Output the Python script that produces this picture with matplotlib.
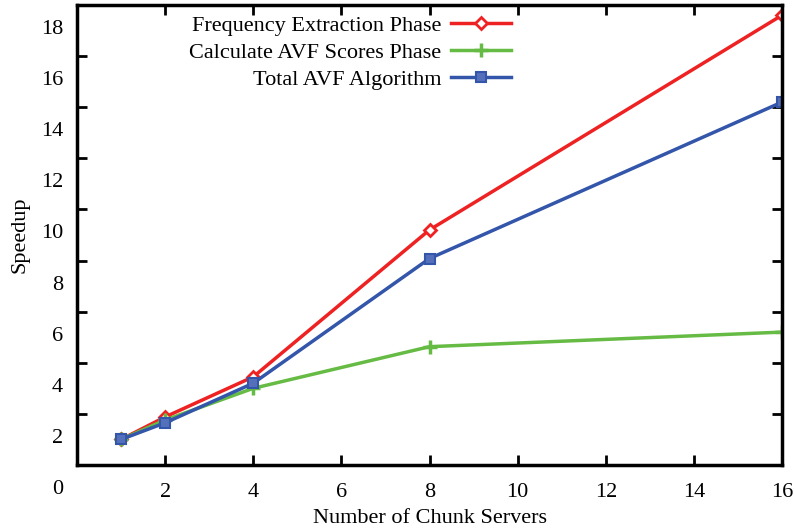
import matplotlib.pyplot as plt
import matplotlib.transforms as mtransforms

plt.rcParams['font.family'] = 'Liberation Serif'

# number of chunk servers and measured speedups
servers = [1, 2, 4, 8, 16]
freq_phase = [1.0, 1.88, 3.45, 9.2, 17.6]
avf_phase = [1.0, 1.76, 3.0, 4.63, 5.2]
total_avf = [1.0, 1.65, 3.2, 8.08, 14.2]

xticks = [2, 4, 6, 8, 10, 12, 14, 16]
yticks = [0, 2, 4, 6, 8, 10, 12, 14, 16, 18]

fig = plt.figure(figsize=(7.94, 5.28), dpi=100)
ax = fig.add_axes([77 / 794, 63 / 528, 705 / 794, 460 / 528])

ax.plot(servers, freq_phase, color='#ee2222', lw=2.5, marker='D', ms=6,
        mfc='white', mec='#ee2222', mew=2, label='Frequency Extraction Phase')
ax.plot(servers, avf_phase, color='#66bb44', lw=2.5, marker='+', ms=10,
        mew=2.5, label='Calculate AVF Scores Phase')
ax.plot(servers, total_avf, color='#3355aa', lw=2.5, marker='s', ms=7,
        mfc='#5570bb', mec='#3355aa', mew=1.5, label='Total AVF Algorithm')

ax.set_xlim(0, 16)
ax.set_ylim(0, 18)
ax.set_xticks(xticks)
ax.set_yticks(yticks)
ax.tick_params(direction='in', length=7, width=2, top=True, right=True,
               labelsize=16, pad=10)
ax.tick_params(axis='x', pad=13)
for s in ax.spines.values():
    s.set_linewidth(2.5)

# the y labels sit a bit below their ticks
shift = mtransforms.ScaledTranslation(0, -0.22, fig.dpi_scale_trans)
for lab in ax.get_yticklabels():
    lab.set_transform(lab.get_transform() + shift)

ax.set_xlabel('Number of Chunk Servers', fontsize=16, labelpad=5)
ax.set_ylabel('Speedup', fontsize=16, labelpad=8)

ax.legend(loc='upper right', bbox_to_anchor=(0.63, 1.0), frameon=False,
          markerfirst=False, fontsize=16, handlelength=2.7,
          handletextpad=0.45, labelspacing=0.3, borderaxespad=0.25,
          borderpad=0.2)
for t in ax.get_legend().get_texts():
    t.set_ha('right')

fig.savefig('out.png', dpi=100)
